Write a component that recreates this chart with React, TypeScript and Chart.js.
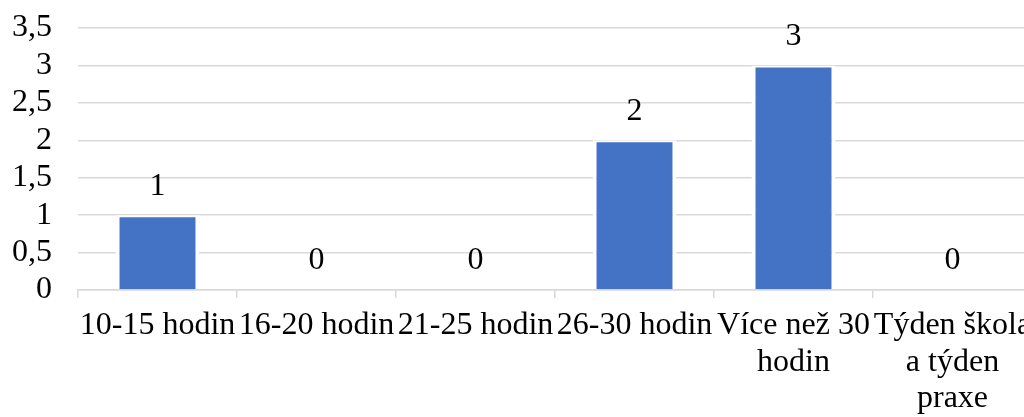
import React, { useEffect, useRef } from "react";
import { Chart, registerables } from "chart.js";

Chart.register(...registerables);

const categories: string[][] = [
  ["10-15 hodin"],
  ["16-20 hodin"],
  ["21-25 hodin"],
  ["26-30 hodin"],
  ["Více než 30", "hodin"],
  ["Týden škola", "a týden", "praxe"],
];
const values: number[] = [1, 0, 0, 2, 3, 0];
const yMin = 0;
const yMax = 3.5;
const yStep = 0.5;

const FONT = "'Liberation Serif', 'Times New Roman', serif";

const valueLabels = {
  id: "valueLabels",
  afterDatasetsDraw(chart: any) {
    const ctx = chart.ctx;
    const meta = chart.getDatasetMeta(0);
    ctx.save();
    ctx.font = `32px ${FONT}`;
    ctx.fillStyle = "#000";
    ctx.textAlign = "center";
    ctx.textBaseline = "middle";
    meta.data.forEach((bar: any, i: number) => {
      ctx.fillText(String(values[i]), bar.x, bar.y - 29);
    });
    ctx.restore();
  },
};

export default function App() {
  const ref = useRef<HTMLCanvasElement>(null);
  useEffect(() => {
    if (!ref.current) return;
    const chart = new Chart(ref.current, {
      type: "bar",
      data: {
        labels: categories as any,
        datasets: [
          {
            data: values,
            backgroundColor: "#4472C4",
            borderColor: "#ffffff",
            borderWidth: { top: 2, left: 4, right: 4, bottom: 0 },
            borderSkipped: false,
            barPercentage: 0.528,
            categoryPercentage: 1,
          },
        ],
      },
      options: {
        animation: false,
        responsive: true,
        maintainAspectRatio: false,
        layout: {
          autoPadding: false,
          padding: { left: 10, top: 28, right: 8, bottom: 0 },
        } as any,
        plugins: {
          legend: { display: false },
          tooltip: { enabled: false },
        },
        scales: {
          x: {
            grid: {
              display: true,
              drawOnChartArea: false,
              tickLength: 8,
              color: "#d9d9d9",
              lineWidth: 1.5,
              offset: true,
            },
            border: { display: true, color: "#d9d9d9", width: 1.5 },
            ticks: {
              color: "#000",
              font: { family: FONT, size: 32, lineHeight: 1.13 },
              autoSkip: false,
              maxRotation: 0,
              minRotation: 0,
              padding: 10,
            },
            afterFit: (s: any) => {
              s.height = 127;
              s.paddingLeft = 0;
              s.paddingRight = 0;
            },
          },
          y: {
            min: yMin,
            max: yMax,
            grid: {
              color: "#d9d9d9",
              lineWidth: 1.5,
              drawTicks: false,
            },
            border: { display: false },
            ticks: {
              stepSize: yStep,
              autoSkip: false,
              color: "#000",
              padding: 26,
              font: { family: FONT, size: 32 },
              callback: (v: any) => String(v).replace(".", ","),
            },
            afterFit: (s: any) => {
              s.width = 68;
              s.paddingTop = 0;
              s.paddingBottom = 0;
            },
          },
        },
      },
      plugins: [valueLabels],
    });
    return () => chart.destroy();
  }, []);

  return (
    <div
      style={{
        position: "fixed",
        left: 0,
        top: 0,
        width: 1024,
        height: 417,
        overflow: "hidden",
        background: "#fff",
      }}
    >
      <div style={{ position: "absolute", left: 0, top: 0, width: 1040, height: 417 }}>
        <canvas ref={ref} />
      </div>
    </div>
  );
}
